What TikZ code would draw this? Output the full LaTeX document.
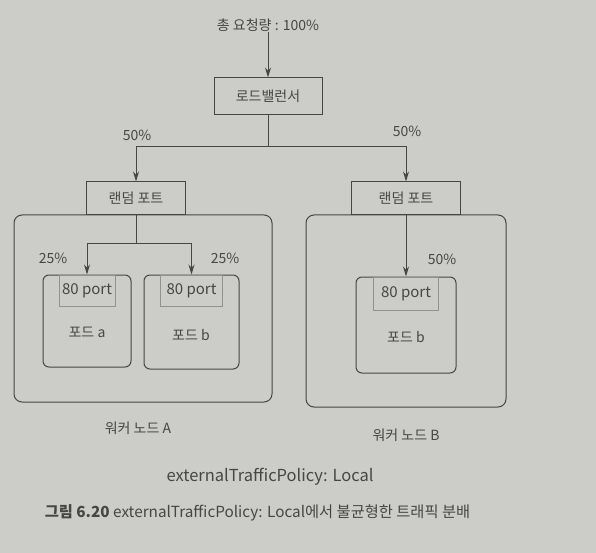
\documentclass[tikz,border=0pt]{standalone}
\usepackage{fontspec}
\setmainfont{Noto Sans CJK KR}
\usetikzlibrary{arrows.meta}
\definecolor{paper}{RGB}{204,204,200}
\definecolor{ink}{RGB}{70,70,70}
\definecolor{portline}{RGB}{145,145,145}
\begin{document}
\begin{tikzpicture}[x=1pt,y=-1pt,
  every node/.style={text=ink, font=\fontsize{14}{16}\selectfont, inner sep=0pt},
  box/.style={draw=ink, line width=1pt, minimum width=#1},
  wnode/.style={draw=ink, line width=1pt, rounded corners=8pt},
  pod/.style={draw=ink, line width=1pt, rounded corners=6pt},
  portbox/.style={draw=portline, line width=0.8pt},
  conn/.style={draw=ink, line width=1pt},
  arr/.style={conn, -{Stealth[length=10pt,width=6pt]}},
  lbl/.style={text=ink}
]
\fill[paper] (0,0) rectangle (596,553);
\useasboundingbox (0,0) rectangle (596,553);

\node[lbl] (title) at (268,25) {총 요청량 : 100\%};
\node[box=108pt, minimum height=37pt] (lb) at (268,96.5) {로드밸런서};
\node[box=99pt, minimum height=33pt] (rpL) at (136,198.5) {랜덤 포트};
\node[box=109pt, minimum height=33pt] (rpR) at (406,198.5) {랜덤 포트};

\node[wnode, minimum width=258pt, minimum height=187pt] (wA) at (143,308.5) {};
\node[wnode, minimum width=200pt, minimum height=192pt] (wB) at (406,311) {};

\node[pod, minimum width=88pt, minimum height=92pt] (podA) at (87,321) {};
\node[pod, minimum width=95pt, minimum height=94pt] (podB) at (191.5,322) {};
\node[pod, minimum width=100pt, minimum height=96pt] (podC) at (406,325) {};

\node[portbox, anchor=north, minimum width=56pt, minimum height=31pt, font=\fontsize{15}{17}\selectfont] (portA) at (podA.north) {80 port};
\node[portbox, anchor=north, minimum width=62pt, minimum height=31pt, font=\fontsize{15}{17}\selectfont] (portB) at (podB.north) {80 port};
\node[portbox, anchor=north, minimum width=65pt, minimum height=33pt, font=\fontsize{15}{17}\selectfont] (portC) at (podC.north) {80 port};

\node[lbl] (podAl) at (87,332) {포드 a};
\node[lbl] (podBl) at (191,335) {포드 b};
\node[lbl] (podCl) at (406,337) {포드 b};

\coordinate (split) at (268,147);
\coordinate (splitA) at (136,243);
\draw[arr] (title) -- (lb);
\draw[conn] (lb.south) -- (split);
\draw[arr] (split) -| (rpL.north);
\draw[arr] (split) -| (rpR.north);
\draw[conn] (rpL.south) -- (splitA);
\draw[arr] (splitA) -| (podA.north);
\draw[arr] (splitA) -| (podB.north);
\draw[arr] (rpR.south) -- (podC.north);

\node[lbl] (p1) at (137,135) {50\%};
\node[lbl] (p2) at (407,131) {50\%};
\node[lbl] (p3) at (53,258) {25\%};
\node[lbl] (p4) at (225,258) {25\%};
\node[lbl] (p5) at (442,259) {50\%};

\node[lbl] (wAl) at (138,428) {워커 노드 A};
\node[lbl] (wBl) at (406,435) {워커 노드 B};
\node[lbl, font=\fontsize{16.5}{18}\selectfont] (policy) at (270,477) {externalTrafficPolicy: Local};
\node[lbl, font=\fontsize{15.3}{17}\selectfont] (caption) at (257.5,513) {\textbf{그림 6.20} externalTrafficPolicy: Local에서 불균형한 트래픽 분배};
\end{tikzpicture}
\end{document}
